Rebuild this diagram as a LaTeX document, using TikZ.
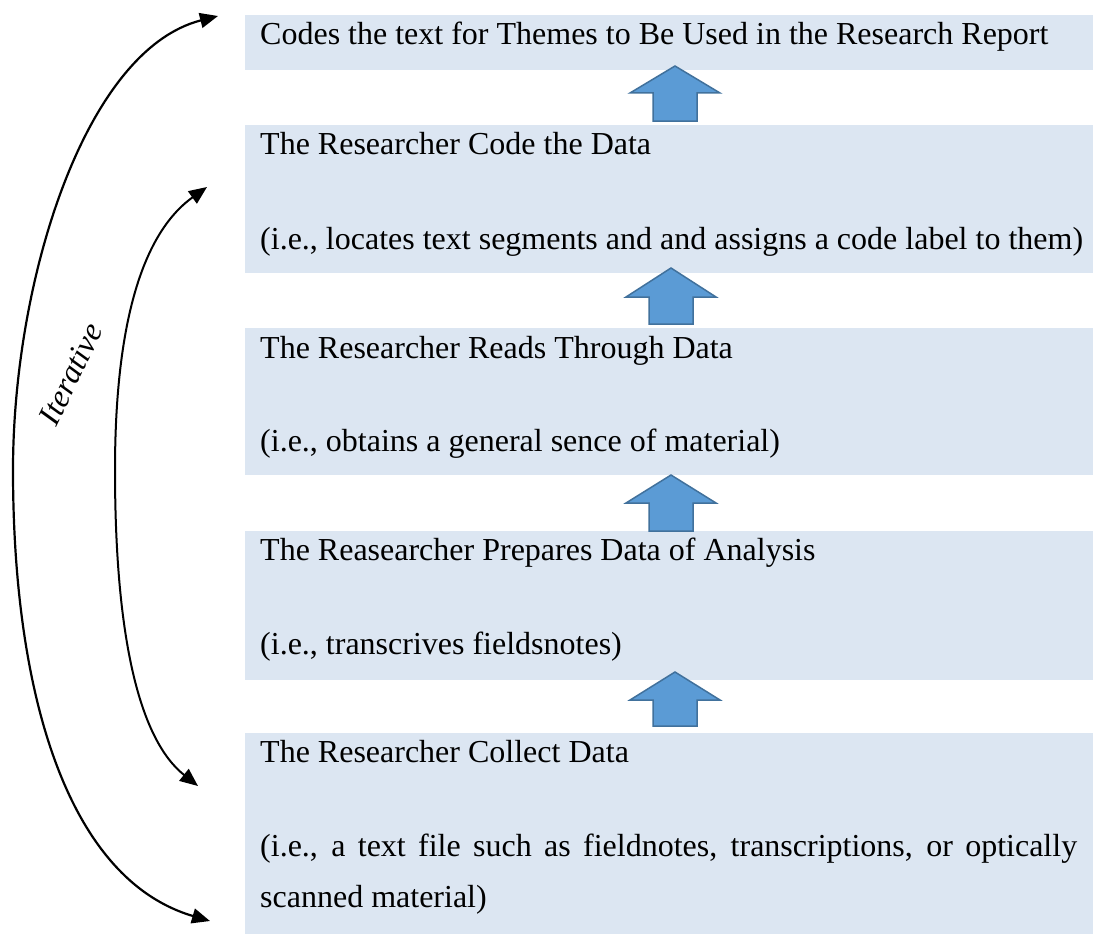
\documentclass[tikz,border=0pt]{standalone}
\usepackage{fontspec}
\setmainfont{Liberation Serif}
\usetikzlibrary{arrows.meta}
\definecolor{boxblue}{HTML}{DCE6F2}
\definecolor{arrowfill}{HTML}{5B9BD5}
\definecolor{arrowline}{HTML}{41719C}
\begin{document}
\begin{tikzpicture}[x=1pt,y=-1pt,
  stagebox/.style={fill=boxblue,draw=none,anchor=north west,inner sep=0pt,minimum width=848pt},
  line/.style={anchor=base west,inner sep=0pt,font=\fontsize{32}{37}\selectfont},
  blockarrow/.style={fill=arrowfill,draw=arrowline,line width=1.5pt,line join=miter},
  loop/.style={line width=2.2pt,{Triangle[length=18pt,width=15pt]}-{Triangle[length=18pt,width=15pt]}}]
\useasboundingbox (0,0) rectangle (1093,934);

% stage boxes, top to bottom
\node[stagebox,minimum height=55pt]  (s1) at (245,15)  {};
\node[stagebox,minimum height=148pt] (s2) at (245,125) {};
\node[stagebox,minimum height=147pt] (s3) at (245,328) {};
\node[stagebox,minimum height=149pt] (s4) at (245,531) {};
\node[stagebox,minimum height=201pt] (s5) at (245,733) {};

% texts
\node[line] (t1)  at (260,45)  {Codes the text for Themes to Be Used in the Research Report};
\node[line] (t2a) at (260,154) {The Researcher Code the Data};
\node[line] (t2b) at (260,249) {(i.e., locates text segments and and assigns a code label to them)};
\node[line] (t3a) at (260,358) {The Researcher Reads Through Data};
\node[line] (t3b) at (260,451) {(i.e., obtains a general sence of material)};
\node[line] (t4a) at (260,560) {The Reasearcher Prepares Data of Analysis};
\node[line] (t4b) at (260,654) {(i.e., transcrives fieldsnotes)};
\node[line] (t5a) at (260,762) {The Researcher Collect Data};
\node[line] (t5b) at (260,856) {\makebox[817pt][s]{(i.e., a text file such as fieldnotes, transcriptions, or optically}};
\node[line] (t5c) at (260,907) {scanned material)};

% upward block arrows: \blockup{centre x}{tip y}{head base y}{bottom y}
\newcommand{\blockup}[4]{%
  \draw[blockarrow] (#1,#2) -- (#1+45,#3) -- (#1+22,#3) -- (#1+22,#4)
    -- (#1-22,#4) -- (#1-22,#3) -- (#1-45,#3) -- cycle;}
\blockup{675}{66}{93}{121}
\blockup{671}{268}{297}{324}
\blockup{671}{475}{503}{531}
\blockup{675}{672}{700}{726}

% iteration loops on the left
\coordinate (bigtop) at (218,16);
\coordinate (bigbot) at (210,921);
\coordinate (bigmid) at (13,470);
\coordinate (smalltop) at (207,187);
\coordinate (smallbot) at (198,786);
\coordinate (smallmid) at (115,470);
\draw[loop] (bigbot) .. controls (70,880) and (13,700) .. (bigmid)
  .. controls (13,280) and (85,50) .. (bigtop);
\draw[loop,line width=2pt] (smallbot) .. controls (140,740) and (115,640) .. (smallmid)
  .. controls (115,330) and (140,235) .. (smalltop);

\node[rotate=64,font=\fontsize{32}{37}\selectfont\itshape,inner sep=0pt] (iter) at (71,374) {Iterative};
\end{tikzpicture}
\end{document}
